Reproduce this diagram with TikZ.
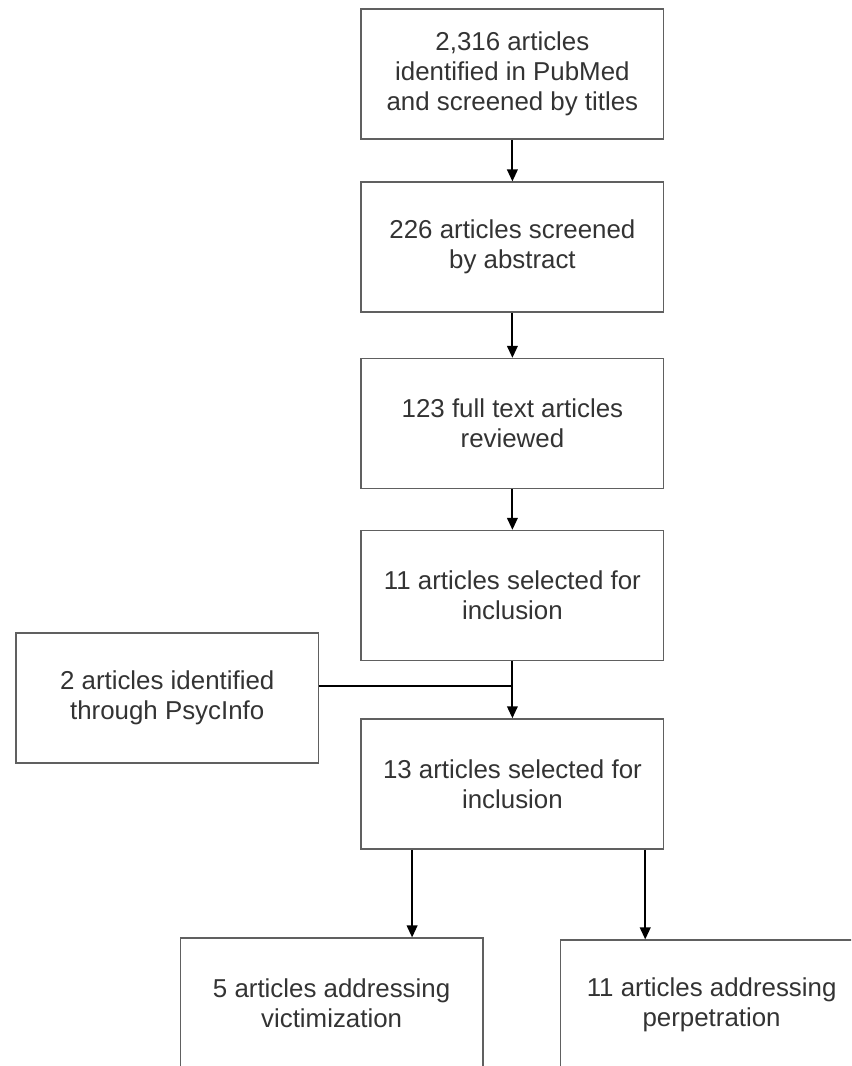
\documentclass[tikz,border=0pt]{standalone}
\usepackage{fontspec}
\setmainfont{Liberation Sans}
\usetikzlibrary{arrows.meta,calc}
\definecolor{boxline}{HTML}{606060}
\definecolor{boxtext}{HTML}{333333}
\begin{document}
\begin{tikzpicture}[x=1cm,y=1cm,
  every node/.style={font=\fontsize{18.4}{21.3}\selectfont, text=boxtext},
  box/.style={draw=boxline, line width=1.1pt, minimum width=7.56cm, minimum height=3.25cm, align=center},
  arr/.style={line width=1.4pt, -{Triangle[length=8.5pt,width=7.5pt]}}]

\path[use as bounding box, clip] (0,0) rectangle (21.275,-26.65);

% Main column
\node[box] (titles)   at (12.81,-1.85)  {2,316 articles\\identified in PubMed\\and screened by titles};
\node[box] (abstract) at (12.81,-6.18)  {226 articles screened\\by abstract};
\node[box] (fulltext) at (12.81,-10.59) {123 full text articles\\reviewed};
\node[box] (incl1)    at (12.81,-14.89) {11 articles selected for\\inclusion};

% Side source
\node[box] (psyc)     at (4.18,-17.45)  {2 articles identified\\through PsycInfo};

\node[box] (incl2)    at (12.81,-19.6)  {13 articles selected for\\inclusion};

% Split
\node[box] (victim)   at (8.29,-25.08)  {5 articles addressing\\victimization};
\node[box] (perp)     at (17.79,-25.13) {11 articles addressing\\perpetration};

% Arrows down the column
\draw[arr] (titles)   -- (abstract);
\draw[arr] (abstract) -- (fulltext);
\draw[arr] (fulltext) -- (incl1);
\draw[arr] (incl1)    -- (incl2);

% Join from the side
\draw[line width=1.4pt] ([yshift=0.3cm]psyc.east) -- ([yshift=0.3cm]psyc.east -| incl1.south);

% Arrows to the two groups
\coordinate (leftout)  at ($(incl2.south west)!0.17!(incl2.south east)$);
\coordinate (rightout) at ($(incl2.south west)!0.937!(incl2.south east)$);
\draw[arr] (leftout)  -- (leftout |- victim.north);
\draw[arr] (rightout) -- (rightout |- perp.north);

\end{tikzpicture}
\end{document}
